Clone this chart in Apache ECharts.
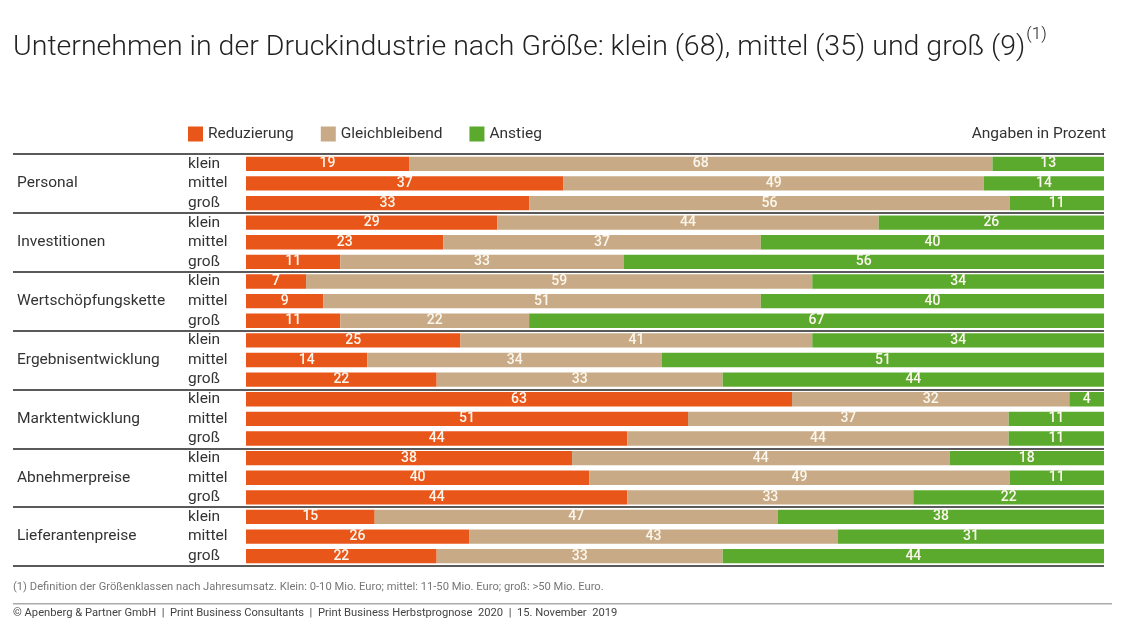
<!DOCTYPE html>
<html>
<head>
<meta charset="utf-8">
<script src="https://cdn.jsdelivr.net/npm/echarts@6/dist/echarts.min.js"></script>
<style>html,body{margin:0;padding:0;background:#fff}#c{width:1127px;height:636px}</style>
</head>
<body>
<div id="c"></div>
<script>
const groups = ['Personal','Investitionen','Wertschöpfungskette','Ergebnisentwicklung','Marktentwicklung','Abnehmerpreise','Lieferantenpreise'];
const sizes = ['klein','mittel','groß'];
const seriesNames = ['Reduzierung','Gleichbleibend','Anstieg'];
// per row (group x size), order: groups, then sizes
const reduzierung   = [19,37,33, 29,23,11, 7,9,11, 25,14,22, 63,51,44, 38,40,44, 15,26,22];
const gleichbleibend= [68,49,56, 44,37,33, 59,51,22, 41,34,33, 32,37,44, 44,49,33, 47,43,33];
const anstieg       = [13,14,11, 26,40,56, 34,40,67, 34,51,44,  4,11,11, 18,11,22, 38,31,44];
const colors = ['#E8561A','#C8AB86','#5BAA2E'];

const rows = [];
groups.forEach(g => sizes.forEach(s => rows.push(g + '|' + s)));
const raw = [reduzierung, gleichbleibend, anstieg];
const sums = rows.map((_, i) => reduzierung[i] + gleichbleibend[i] + anstieg[i]);

const chart = echarts.init(document.getElementById('c'));
const font = 'Roboto';
chart.setOption({
  animation: false,
  textStyle: { fontFamily: font },
  title: {
    left: 13, top: 26, padding: 0,
    text: '{a|Unternehmen in der Druckindustrie nach Größe: klein (68), mittel (35) und groß (9)}{s|(1)}',
    textStyle: {
      rich: {
        a: { fontSize: 28.5, fontWeight: 300, color: '#222', fontFamily: font, lineHeight: 36, verticalAlign: 'bottom' },
        s: { fontSize: 17, fontWeight: 300, color: '#222', fontFamily: font, lineHeight: 36, verticalAlign: 'top', padding: [0, 0, 14, 1] }
      }
    }
  },
  legend: {
    left: 188, top: 126, padding: 0,
    icon: 'rect', itemWidth: 15, itemHeight: 15, itemGap: 27,
    textStyle: { fontSize: 15.5, color: '#333', fontFamily: font },
    data: seriesNames
  },
  grid: { left: 246, right: 23, top: 154, bottom: 70, containLabel: false },
  xAxis: { type: 'value', min: 0, max: 100, show: false },
  yAxis: [
    {
      type: 'category', inverse: true, data: rows,
      axisLine: { show: false }, axisTick: { show: false }, splitLine: { show: false },
      axisLabel: { interval: 0, hideOverlap: false, align: 'left', margin: 58, fontSize: 15.5, color: '#333', fontFamily: font,
        formatter: v => v.split('|')[1] }
    },
    {
      type: 'category', inverse: true, data: groups, position: 'left',
      axisLine: { show: false },
      axisTick: { show: true, length: 233, lineStyle: { color: '#5a5a5a', width: 2 } },
      splitLine: { show: true, lineStyle: { color: '#5a5a5a', width: 2 } },
      axisLabel: { interval: 0, align: 'left', margin: 229, fontSize: 15.5, color: '#333', fontFamily: font }
    }
  ],
  series: seriesNames.map((name, k) => ({
    name, type: 'bar', stack: 'all', yAxisIndex: 0,
    barCategoryGap: '27%',
    itemStyle: { color: colors[k] },
    label: {
      show: true, position: 'inside', color: '#fbf6ec', fontSize: 14, fontWeight: 500,
      fontFamily: font,
      formatter: p => p.data.raw
    },
    data: rows.map((_, i) => ({ value: raw[k][i] / sums[i] * 100, raw: raw[k][i] }))
  })),
  graphic: [
    { type: 'text', right: 21, top: 126, style: { text: 'Angaben in Prozent', fontSize: 15.5, fill: '#333', fontFamily: font } },
    { type: 'text', left: 13, top: 582, style: { text: '(1) Definition der Größenklassen nach Jahresumsatz. Klein: 0-10 Mio. Euro; mittel: 11-50 Mio. Euro; groß: >50 Mio. Euro.', fontSize: 11.2, fill: '#777', fontFamily: font } },
    { type: 'rect', left: 13, top: 603, shape: { width: 1099, height: 1.5 }, style: { fill: '#aaa' } },
    { type: 'text', left: 13, top: 608, style: { text: '© Apenberg & Partner GmbH  |  Print Business Consultants  |  Print Business Herbstprognose  2020  |  15. November  2019', fontSize: 11.2, fill: '#444', fontFamily: font } }
  ]
});
</script>
</body>
</html>
